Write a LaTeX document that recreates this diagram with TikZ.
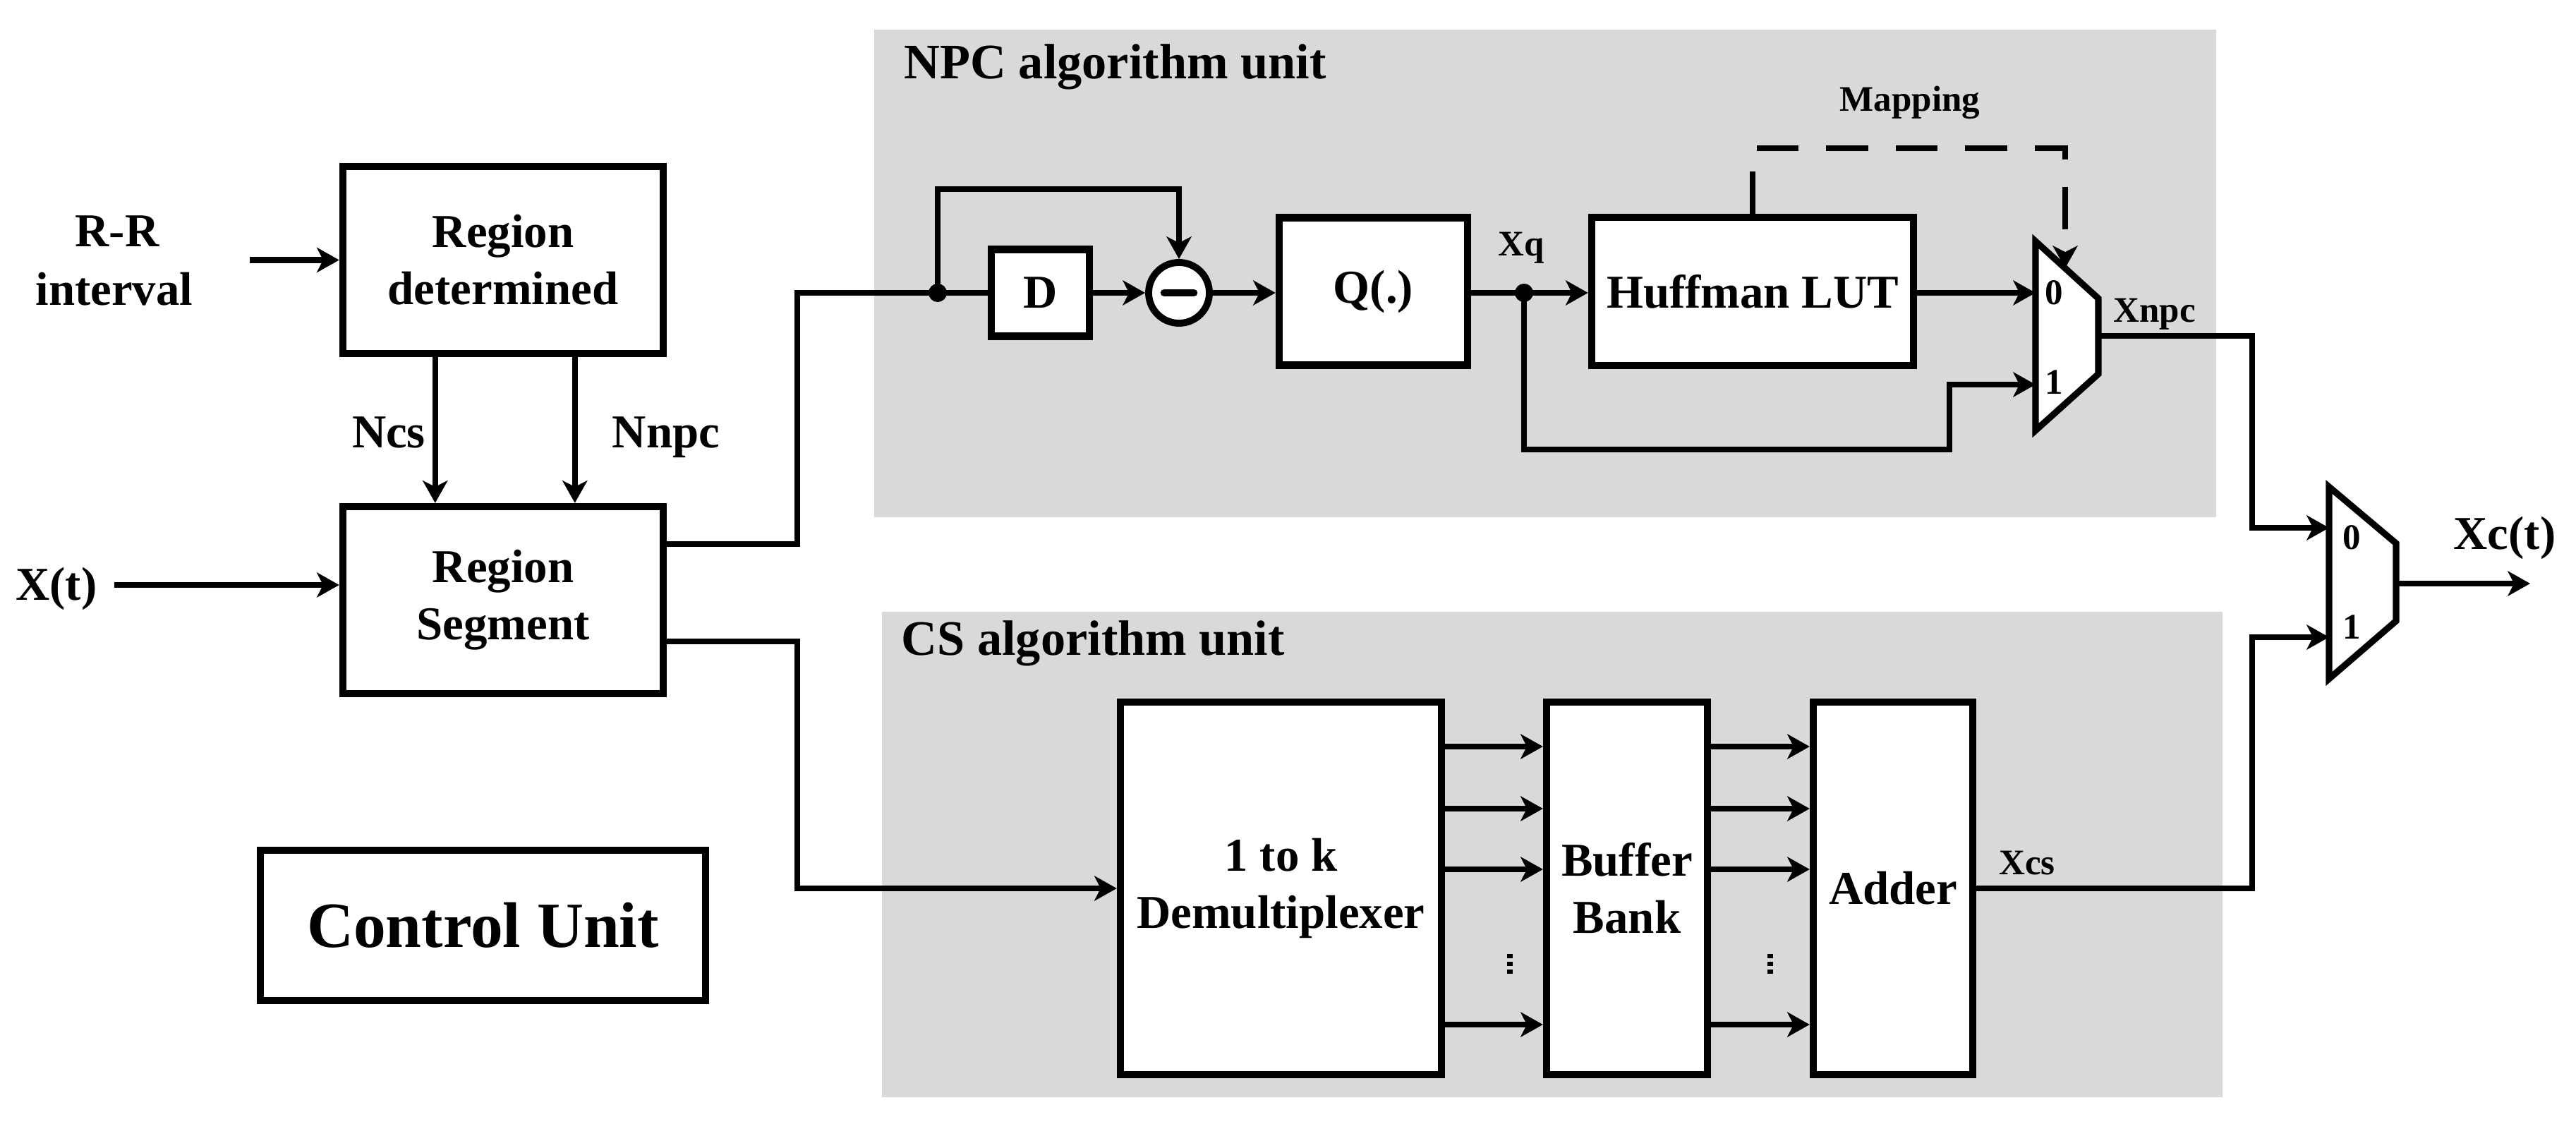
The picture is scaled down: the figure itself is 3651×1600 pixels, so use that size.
\documentclass[tikz,border=0pt]{standalone}
\usepackage{fontspec}
\setmainfont{Liberation Serif}
\usetikzlibrary{arrows.meta,calc}
\definecolor{panel}{HTML}{D9D9D9}
\begin{document}
\begin{tikzpicture}[x=0.01cm,y=-0.01cm,
  wire/.style={line width=2.4pt,line join=miter},
  arr/.style={wire,-{Stealth[length=9pt,width=10pt,inset=2.5pt]}},
  blk/.style={draw,line width=2.9pt,fill=white,inner sep=0pt,align=center,
    font=\bfseries\fontsize{19}{23}\selectfont},
  lbl/.style={inner sep=0pt,font=\bfseries\fontsize{19}{23}\selectfont},
  ttl/.style={inner sep=0pt,font=\bfseries\fontsize{20}{24}\selectfont},
  slbl/.style={inner sep=0pt,font=\bfseries\fontsize{14.5}{17}\selectfont},
  dig/.style={inner sep=0pt,font=\bfseries\fontsize{14.5}{17}\selectfont},
  mux/.style={line width=2.6pt,line join=miter,fill=white},
  junc/.style={fill=black}
]
\useasboundingbox (0,0) rectangle (3651,1600);

% panels
\fill[panel] (1239,42) rectangle (3141,733);
\fill[panel] (1250,867) rectangle (3150,1555);
\node[ttl,anchor=base west] (tnpc) at (1281,112) {NPC algorithm unit};
\node[ttl,anchor=base west] (tcs) at (1277,928) {CS algorithm unit};

% left blocks
\node[blk,minimum width=4.54cm,minimum height=2.65cm] (RD) at (713,368.5) {Region\\determined};
\node[blk,minimum width=4.54cm,minimum height=2.65cm] (RS) at (713,850.5) {Region\\Segment};
\node[blk,minimum width=6.31cm,minimum height=2.13cm,font=\bfseries\fontsize{26}{30}\selectfont] (CU) at (684.5,1311.5) {Control Unit};

\node[lbl,anchor=base] (rr1) at (166,350) {R-R};
\node[lbl,anchor=base] (rr2) at (162,432) {interval};
\node[lbl,anchor=base east] (xt) at (138,850) {X(t)};
\coordinate (rrs) at (354,368.5);
\coordinate (xts) at (162,829);
\draw[arr] (rrs) -- (RD.west);
\draw[arr] (xts) -- ($(RS.west)+(0,-21.5)$);
\draw[arr] ($(RD.south west)+(136,0)$) -- ($(RS.north west)+(136,0)$);
\draw[arr] ($(RD.south west)+(334,0)$) -- ($(RS.north west)+(334,0)$);
\node[lbl,anchor=base] (ncs) at (551,634) {Ncs};
\node[lbl,anchor=base] (nnpc) at (944,634) {Nnpc};

% NPC unit
\node[blk,minimum width=1.39cm,minimum height=1.23cm] (D) at (1474.5,415) {D};
\node[draw,circle,line width=2.8pt,fill=white,minimum size=0.86cm,inner sep=0pt] (SUB) at (1671,415) {};
\draw[line width=3pt,line cap=round] ($(SUB.center)+(-21,0)$) -- ($(SUB.center)+(21,0)$);
\node[blk,minimum width=2.67cm,minimum height=2.09cm] (Q) at (1946.5,413) {Q(.)};
\node[blk,minimum width=4.56cm,minimum height=2.10cm] (HUF) at (2484,413) {Huffman LUT};

\coordinate (m1a) at (2885,342);
\coordinate (m1b) at (2974,423);
\coordinate (m1c) at (2974,530);
\coordinate (m1d) at (2885,610);
\draw[mux] (m1a) -- (m1b) -- (m1c) -- (m1d) -- cycle;
\coordinate (m1i0) at (2885,415);
\coordinate (m1i1) at (2885,545);
\coordinate (m1o) at (2974,476);
\coordinate (m1map) at (2927,380);
\node[dig,anchor=base] (m1l0) at (2911,431) {0};
\node[dig,anchor=base] (m1l1) at (2911,558) {1};

\coordinate (ru) at (1130,415);
\coordinate (j1) at (1329,415);
\coordinate (fbt) at (1329,268);
\draw[wire] ($(RS.east)+(0,-79.5)$) -| (ru) -- (D.west);
\draw[arr] (j1) -- (fbt) -| (SUB.north);
\fill[junc] (j1) circle[radius=3.7pt];
\draw[arr] (D.east) -- (SUB.west);
\draw[arr] (SUB.east) -- ($(Q.west)+(0,2)$);
\coordinate (jq) at (2160,415);
\draw[arr] ($(Q.east)+(0,2)$) -- ($(HUF.west)+(0,2)$);
\fill[junc] (jq) circle[radius=3.7pt];
\node[slbl,anchor=base] (xq) at (2156,363) {Xq};
\coordinate (byb) at (2160,637);
\coordinate (byr) at (2763,637);
\draw[arr] (jq) -- (byb) -- (byr) |- (m1i1);
\draw[arr] ($(HUF.east)+(0,2)$) -- (m1i0);
\coordinate (mapc) at (2927,210);
\draw[wire,dash pattern=on 17pt off 11pt,-{Stealth[length=9pt,width=10pt,inset=2.5pt]}] (HUF.north) |- (mapc) -- (m1map);
\node[slbl,anchor=base] (mapl) at (2707,158) {Mapping};
\node[slbl,anchor=base west] (xnpc) at (2995,456) {Xnpc};

% CS unit
\node[blk,minimum width=4.55cm,minimum height=5.28cm] (DMX) at (1815.5,1259) {1 to k\\Demultiplexer};
\node[blk,minimum width=2.28cm,minimum height=5.28cm] (BUF) at (2306,1259) {Buffer\\Bank};
\node[blk,minimum width=2.26cm,minimum height=5.28cm] (ADD) at (2683,1259) {Adder};
\coordinate (rl) at (1130,1259);
\draw[arr] ($(RS.east)+(0,58.5)$) -| (rl) -- (DMX.west);
\foreach \o in {-201,-113,-27,193}{
  \draw[arr] ($(DMX.east)+(0,\o)$) -- ($(BUF.west)+(0,\o)$);
  \draw[arr] ($(BUF.east)+(0,\o)$) -- ($(ADD.west)+(0,\o)$);
}
\foreach \x in {2140,2509}{
  \foreach \y in {1355,1366,1377}{
    \fill (\x-4,\y-3) rectangle (\x+4,\y+3);
  }
}
\node[slbl,anchor=base] (xcs) at (2873,1239) {Xcs};

% final mux
\coordinate (m2a) at (3301,690);
\coordinate (m2b) at (3396,770);
\coordinate (m2c) at (3396,880);
\coordinate (m2d) at (3301,962);
\draw[mux] (m2a) -- (m2b) -- (m2c) -- (m2d) -- cycle;
\coordinate (m2i0) at (3301,748);
\coordinate (m2i1) at (3301,903);
\coordinate (m2o) at (3396,827);
\node[dig,anchor=base] (m2l0) at (3333,778) {0};
\node[dig,anchor=base] (m2l1) at (3333,905) {1};
\coordinate (c1) at (3192,476);
\coordinate (c2) at (3192,1259);
\draw[arr] (m1o) -- (c1) |- (m2i0);
\draw[arr] (ADD.east) -- (c2) |- (m2i1);
\coordinate (outp) at (3586,827);
\draw[arr] (m2o) -- (outp);
\node[lbl,anchor=base] (xct) at (3550,778) {Xc(t)};
\end{tikzpicture}
\end{document}
